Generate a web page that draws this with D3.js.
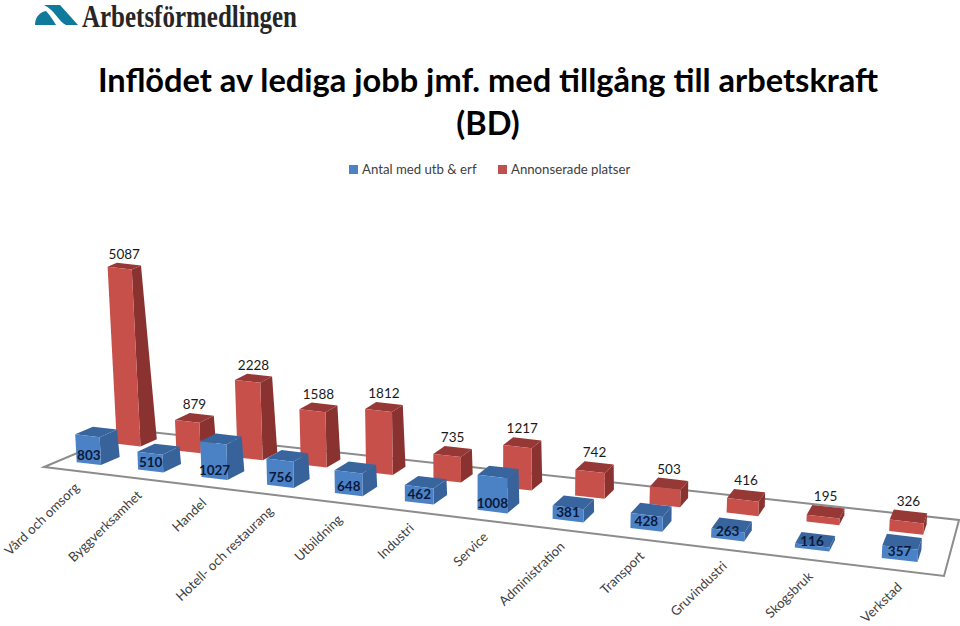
<!DOCTYPE html>
<html><head><meta charset="utf-8">
<script src="https://cdn.jsdelivr.net/npm/d3@7"></script>
<style>html,body{margin:0;background:#fff}svg{display:block}text{font-family:Lato,"Open Sans",sans-serif}</style>
</head><body><div id="c"></div>
<script>
const categories=["Vård och omsorg","Byggverksamhet","Handel","Hotell- och restaurang","Utbildning","Industri","Service","Administration","Transport","Gruvindustri","Skogsbruk","Verkstad"];
const antal=[803,510,1027,756,648,462,1008,381,428,263,116,357];
const annonserade=[5087,879,2228,1588,1812,735,1217,742,503,416,195,326];
const seriesNames=["Antal med utb & erf","Annonserade platser"];
const titleLines=["Inflödet av lediga jobb jmf. med tillgång till arbetskraft","(BD)"];

const svg=d3.select("#c").append("svg").attr("width",960).attr("height",626);

// logo
svg.append("path").attr("fill","#0f7a9c").attr("d","M35,25 C35,17 40,12 46,11 C50,15 53,20 56,25 Z M44,5 L60,5 L78,25 L66,25 C58,21 55,10 44,5 Z");
svg.append("text").attr("x",82).attr("y",27).attr("font-size",31).attr("font-weight",700).attr("fill","#262626")
  .style("font-family","'Liberation Serif',serif").attr("textLength",215).attr("lengthAdjust","spacingAndGlyphs").text("Arbetsförmedlingen");

// title
svg.append("g").selectAll("text").data(titleLines).join("text")
  .attr("x",488).attr("y",(d,i)=>92+i*43).attr("text-anchor","middle")
  .attr("font-size",32.6).attr("font-weight",700).attr("fill","#000").text(d=>d);

// floor homography
const FL=[44,467],FR=[944,576],BR=[959,520],BL=[132,430];
const dx1=FR[0]-BR[0],dx2=BL[0]-BR[0],sx=FL[0]-FR[0]+BR[0]-BL[0];
const dy1=FR[1]-BR[1],dy2=BL[1]-BR[1],sy=FL[1]-FR[1]+BR[1]-BL[1];
const den=dx1*dy2-dx2*dy1;
const G=(sx*dy2-dx2*sy)/den,H=(dx1*sy-sx*dy1)/den;
const A=FR[0]-FL[0]+G*FR[0],B=BL[0]-FL[0]+H*BL[0];
const D=FR[1]-FL[1]+G*FR[1],E=BL[1]-FL[1]+H*BL[1];
function floorPt(u,v){const w=G*u+H*v+1;return [(A*u+B*v+FL[0])/w,(D*u+E*v+FL[1])/w];}

const uScale=d3.scaleBand().domain(categories).range([0.002,1.002]).paddingInner(0.6).paddingOuter(0.3).align(0.42);
const hScale=d3.scaleLinear().domain([0,5087]).range([0,177]);

function pt(u,v,v0,val){
  const h=hScale(val);
  const p=floorPt(u,v0+(v-v0)*(1-h*0.0025));
  const lean=h*0.11*(0.5-u);
  return [p[0]-lean,p[1]-h];
}
const poly=a=>"M"+a.map(p=>p.map(n=>n.toFixed(1)).join(",")).join("L")+"Z";

const rows=[
 {name:"red",vals:annonserade,v0:0.65,v1:0.85,du:-0.003,front:"#c8504b",side:"#8a3230",top:"#963835"},
 {name:"blue",vals:antal,v0:0.17,v1:0.38,du:0,front:"#4b82c6",side:"#38639a",top:"#39659f"}
];

const g=svg.append("g");
g.append("path").attr("d",poly([FL,FR,BR,BL])).attr("fill","#fff").attr("stroke","#8c8c8c").attr("stroke-width",2).attr("stroke-linejoin","miter");

const labels=svg.append("g");
rows.forEach(r=>{
  categories.forEach((c,i)=>{
    const val=r.vals[i],u0=uScale(c)+r.du,u1=u0+uScale.bandwidth();
    const a=pt(u0,r.v0,r.v0,0),b=pt(u1,r.v0,r.v0,0),e=pt(u1,r.v1,r.v0,0);
    const at=pt(u0,r.v0,r.v0,val),bt=pt(u1,r.v0,r.v0,val),et=pt(u1,r.v1,r.v0,val),dt=pt(u0,r.v1,r.v0,val);
    const bar=g.append("g");
    bar.append("path").attr("d",poly([b,e,et,bt])).attr("fill",r.side);
    bar.append("path").attr("d",poly([at,bt,et,dt])).attr("fill",r.top);
    bar.append("path").attr("d",poly([a,b,bt,at])).attr("fill",r.front);
    if(r.name==="red"){
      labels.append("text").attr("x",(at[0]+et[0])/2).attr("y",Math.min(dt[1],et[1])-4)
        .attr("text-anchor","middle").attr("font-size",13.5).attr("fill","#1a1a1a").text(val);
    }else{
      labels.append("text").attr("x",(a[0]+b[0])/2).attr("y",(a[1]+b[1])/2-4)
        .attr("text-anchor","middle").attr("font-size",13.5).attr("font-weight",700).attr("fill","#0b1a3c").text(val);
    }
  });
});

// axis labels
svg.append("g").selectAll("text").data(categories).join("text")
  .attr("transform",c=>{const p=floorPt(uScale(c)+uScale.bandwidth()/2,0);return `translate(${p[0]+7},${p[1]+18}) rotate(-44)`;})
  .attr("text-anchor","end").attr("font-size",13.2).attr("fill","#404040").text(c=>c);

// legend
const leg=svg.append("g");
[[349,362,"#4b82c6"],[498,511,"#c0504d"]].forEach((l,i)=>{
  leg.append("rect").attr("x",l[0]).attr("y",165).attr("width",9).attr("height",9).attr("fill",l[2]);
  leg.append("text").attr("x",l[1]).attr("y",174).attr("font-size",13.2).attr("fill","#404040").text(seriesNames[i]);
});
</script></body></html>
